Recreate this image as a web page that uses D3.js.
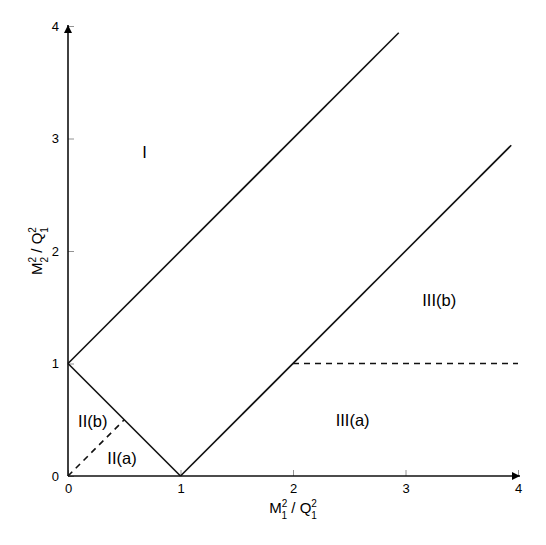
<!DOCTYPE html>
<html>
<head>
<meta charset="utf-8">
<script src="https://cdn.jsdelivr.net/npm/d3@7"></script>
<style>
  body { margin: 0; background: #fff; }
  svg { font-family: "Liberation Sans", Arial, sans-serif; }
</style>
</head>
<body>
<svg id="chart" width="546" height="545"></svg>
<script>
// boundaries of the regions (in M1^2/Q1^2, M2^2/Q1^2 units)
const solidLines = [
  [[0, 1], [2.94, 3.94]],
  [[1, 0], [3.94, 2.94]],
  [[0, 1], [1, 0]]
];
const dashedLines = [
  [[0, 0], [0.5, 0.5]],
  [[2, 1], [4, 1]]
];
const regionLabels = [
  {text: "I", x: 0.68, y: 2.88},
  {text: "II(b)", x: 0.22, y: 0.49},
  {text: "II(a)", x: 0.48, y: 0.16},
  {text: "III(a)", x: 2.53, y: 0.50},
  {text: "III(b)", x: 3.3, y: 1.56}
];
const xTicks = [0, 1, 2, 3, 4];
const yTicks = [0, 1, 2, 3, 4];

const svg = d3.select("#chart");

const x = d3.scaleLinear().domain([0, 4]).range([68, 518]);
const y = d3.scaleLinear().domain([0, 4]).range([476, 26]);

// ticks point inward
const xAxis = d3.axisBottom(x).tickValues(xTicks).tickFormat(d3.format("d"))
  .tickSizeInner(-6).tickSizeOuter(0).tickPadding(8);
const yAxis = d3.axisLeft(y).tickValues(yTicks).tickFormat(d3.format("d"))
  .tickSizeInner(-6).tickSizeOuter(0).tickPadding(9);

const gx = svg.append("g").attr("transform", `translate(0,${y(0)})`).call(xAxis);
const gy = svg.append("g").attr("transform", `translate(${x(0)},0)`).call(yAxis);
[gx, gy].forEach(g => {
  g.attr("font-size", 13).attr("font-family", "Liberation Sans, Arial, sans-serif");
  g.select(".domain").remove();
  g.selectAll(".tick line").attr("stroke", "#777").attr("stroke-width", 0.8);
  g.selectAll(".tick text").attr("fill", "#000");
});

// arrow head
svg.append("defs").append("marker")
  .attr("id", "arrow")
  .attr("viewBox", "0 0 10 10")
  .attr("refX", 10).attr("refY", 5)
  .attr("markerWidth", 10).attr("markerHeight", 8)
  .attr("markerUnits", "userSpaceOnUse")
  .attr("orient", "auto")
  .append("path").attr("d", "M0,0 L10,5 L0,10 z").attr("fill", "#000");

svg.append("line")
  .attr("x1", x(0)).attr("y1", y(0)).attr("x2", x(4) + 2).attr("y2", y(0))
  .attr("stroke", "#111").attr("stroke-width", 1.6).attr("marker-end", "url(#arrow)");
svg.append("line")
  .attr("x1", x(0)).attr("y1", y(0)).attr("x2", x(0)).attr("y2", y(4) - 1)
  .attr("stroke", "#111").attr("stroke-width", 1.6).attr("marker-end", "url(#arrow)");

const line = d3.line().x(d => x(d[0])).y(d => y(d[1]));

svg.selectAll("path.solid").data(solidLines).enter()
  .append("path").attr("class", "solid")
  .attr("d", line)
  .attr("fill", "none").attr("stroke", "#111").attr("stroke-width", 1.6);

svg.selectAll("path.dashed").data(dashedLines).enter()
  .append("path").attr("class", "dashed")
  .attr("d", line)
  .attr("fill", "none").attr("stroke", "#111").attr("stroke-width", 1.6)
  .attr("stroke-dasharray", "6,5");

svg.selectAll("text.region").data(regionLabels).enter()
  .append("text").attr("class", "region")
  .attr("x", d => x(d.x)).attr("y", d => y(d.y))
  .attr("dy", "0.35em")
  .attr("text-anchor", "middle")
  .attr("font-size", 16.5).attr("fill", "#000")
  .text(d => d.text);

// axis titles with stacked super/subscripts
function massLabel(g, sub) {
  const t = g.append("text").attr("text-anchor", "middle").attr("font-size", 15).attr("fill", "#000");
  t.append("tspan").text("M");
  t.append("tspan").attr("font-size", 10).attr("dy", -6.5).text("2");
  t.append("tspan").attr("font-size", 10).attr("dx", -5.6).attr("dy", 12).text(sub);
  t.append("tspan").attr("dy", -5.5).text(" / Q");
  t.append("tspan").attr("font-size", 10).attr("dy", -6.5).text("2");
  t.append("tspan").attr("font-size", 10).attr("dx", -5.6).attr("dy", 12).text("1");
  return t;
}

massLabel(svg.append("g").attr("transform", `translate(${x(2)},${y(0) + 37})`), "1");
massLabel(svg.append("g").attr("transform", `translate(42,${y(2)}) rotate(-90)`), "2");
</script>
</body>
</html>
